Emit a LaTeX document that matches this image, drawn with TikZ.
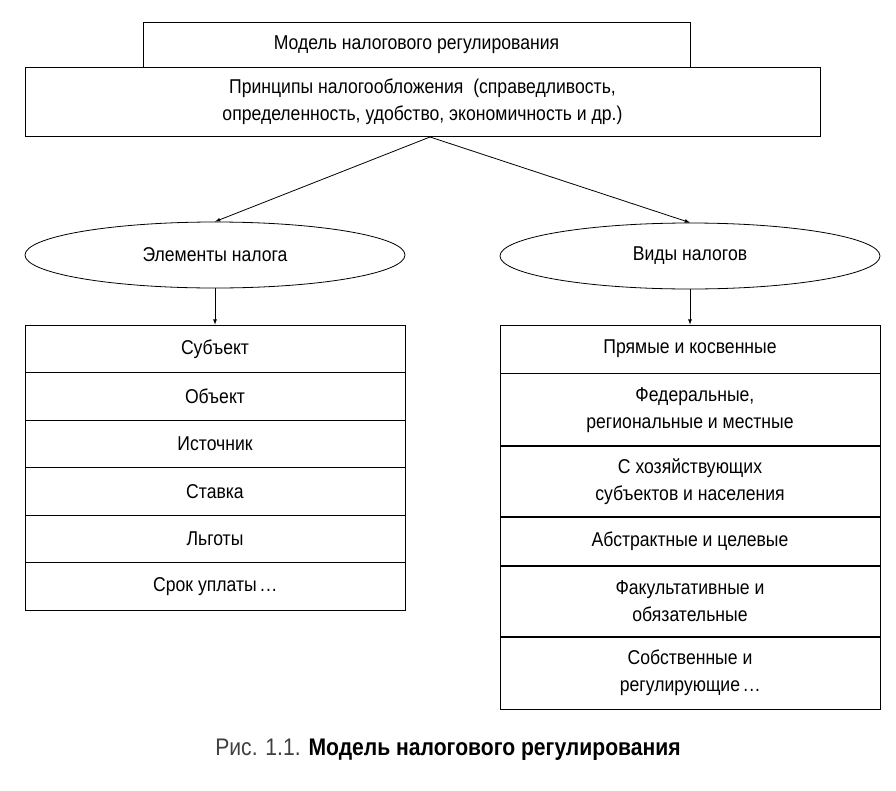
\documentclass[tikz,border=0pt]{standalone}
\usepackage{fontspec}
\setmainfont[FakeStretch=0.88]{Liberation Sans}
\usetikzlibrary{positioning,shapes.geometric}
\newcommand{\trail}{\,.\kern1pt.\kern1pt.}
\tikzset{
	cell/.style={draw,thick,minimum width=380pt,align=center,inner sep=0pt,font=\fontsize{20}{27}\selectfont},
	oval/.style={draw,thick,ellipse,minimum width=380pt,minimum height=66pt,font=\fontsize{20}{24}\selectfont},
	arr/.style={thick,-latex}
}
\begin{document}
\begin{tikzpicture}[x=1pt,y=-1pt]
	\useasboundingbox (0,0) rectangle (896,790);
	% header
		\node[cell,minimum width=547pt,minimum height=45pt] (model) at (416.5,44.5) {Модель налогового регулирования};
		\node[cell,minimum width=795pt,minimum height=69pt] (princ) at (422.5,101.5) {Принципы налогообложения\ \ (справедливость,\\определенность, удобство, экономичность и др.)};
	% ovals
		\node[oval] (elem) at (215,255) {Элементы налога};
		\node[oval] (vidy) at (690,256) {Виды налогов};
		\coordinate (split) at (430,137);
		\draw[arr] (split) -- (elem.north);
		\draw[arr] (split) -- (vidy.north);
	% left list
		\foreach \t [count=\i] in {Субъект,Объект,Источник,Ставка,Льготы,Срок уплаты\trail}
			\node[cell,minimum height=47.5pt] (e\i) at (215,325+47.5*\i-23.75) {\t};
		\draw[arr] (elem.south) -- (e1.north);
	% right list
		\node[cell,minimum height=48pt] (v1) at (690,349) {Прямые и косвенные};
		\node[cell,minimum height=72pt,below=0pt of v1] (v2) {\ \ Федеральные,\\региональные и местные};
		\node[cell,minimum height=70pt,below=0pt of v2] (v3) {С хозяйствующих\\субъектов и населения};
		\node[cell,minimum height=48pt,below=0pt of v3] (v4) {Абстрактные и целевые};
		\node[cell,minimum height=70pt,below=0pt of v4] (v5) {Факультативные и\\обязательные};
		\node[cell,minimum height=72pt,below=0pt of v5] (v6) {Собственные и\\регулирующие\trail};
		\draw[arr] (vidy.south) -- (v1.north);
	% caption
		\node[font=\fontsize{24}{28}\selectfont] (cap) at (448,750) {\textcolor{black!75}{Рис. 1.1.} \textbf{Модель налогового регулирования}};
\end{tikzpicture}
\end{document}
